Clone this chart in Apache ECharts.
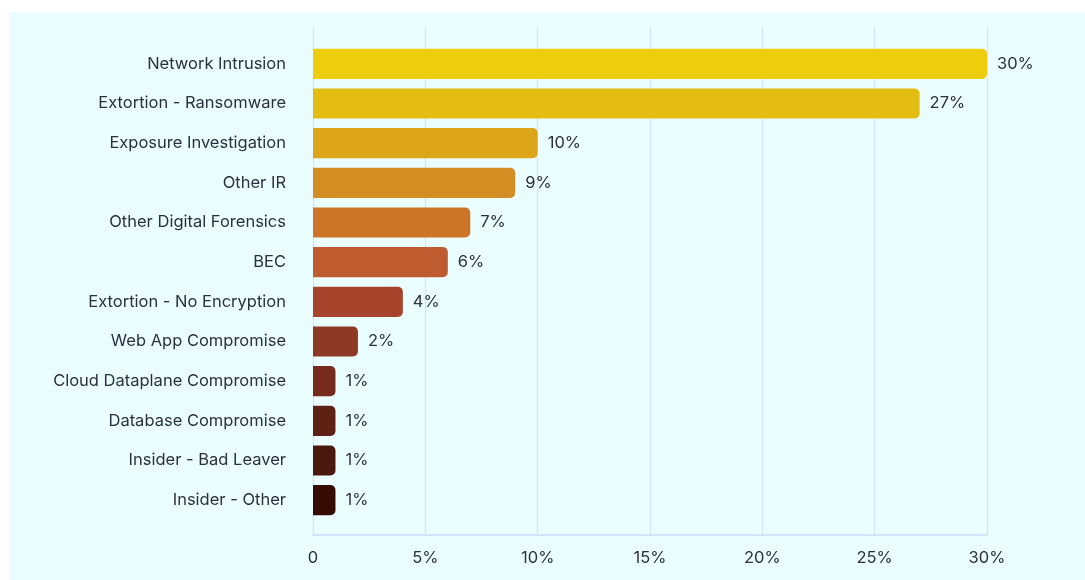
<!DOCTYPE html>
<html>
<head>
<meta charset="utf-8">
<script src="https://cdn.jsdelivr.net/npm/echarts@6/dist/echarts.min.js"></script>
<style>
html,body{margin:0;padding:0;background:#ffffff;}
#chart{width:1085px;height:580px;}
</style>
</head>
<body>
<div id="chart"></div>
<script>
const categories = [
  "Network Intrusion",
  "Extortion - Ransomware",
  "Exposure Investigation",
  "Other IR",
  "Other Digital Forensics",
  "BEC",
  "Extortion - No Encryption",
  "Web App Compromise",
  "Cloud Dataplane Compromise",
  "Database Compromise",
  "Insider - Bad Leaver",
  "Insider - Other"
];
const values = [30, 27, 10, 9, 7, 6, 4, 2, 1, 1, 1, 1];
const barColors = [
  "#EECE0C", "#E3BD12", "#DDA51A", "#D38D22", "#CC7529", "#BE5C30",
  "#A6442C", "#8E3826", "#772B1C", "#5E2215", "#4A180C", "#360B03"
];
const xTicks = [0, 5, 10, 15, 20, 25, 30];

const FONT = "Inter, 'Noto Sans', sans-serif";
const TXT = "#2b3040";
const GRIDC = "#d3e4f8";

const chart = echarts.init(document.getElementById('chart'), null, {renderer: 'canvas'});
chart.setOption({
  animation: false,
  backgroundColor: '#ffffff',
  graphic: [{
    type: 'rect', z: -10, silent: true,
    shape: {x: 9, y: 12, width: 1076, height: 568},
    style: {fill: '#ebfeff'}
  }],
  grid: [
    {left: 313, right: 98, top: 44, bottom: 60},
    {left: 313, right: 98, top: 27, bottom: 45}
  ],
  xAxis: [
    {
      gridIndex: 0, type: 'value', min: xTicks[0], max: xTicks[xTicks.length - 1], interval: 5,
      show: false
    },
    {
      gridIndex: 1, type: 'value', min: xTicks[0], max: xTicks[xTicks.length - 1], interval: 5,
      axisLine: {show: true, lineStyle: {color: GRIDC, width: 2}},
      axisTick: {show: false},
      splitLine: {show: true, lineStyle: {color: GRIDC, width: 1.3}},
      axisLabel: {
        margin: 15, color: TXT, fontFamily: FONT, fontSize: 16.5,
        formatter: v => v === 0 ? '0' : v + '%'
      }
    }
  ],
  yAxis: [
    {
      gridIndex: 0, type: 'category', data: categories, inverse: true,
      axisLine: {show: false}, axisTick: {show: false}, splitLine: {show: false},
      axisLabel: {margin: 27, color: TXT, fontFamily: FONT, fontSize: 16.5, padding: [3, 0, 0, 0]}
    },
    {
      gridIndex: 1, type: 'value', min: 0, max: 1, show: false
    }
  ],
  series: [{
    type: 'bar', xAxisIndex: 0, yAxisIndex: 0,
    data: values.map((v, i) => ({value: v, itemStyle: {color: barColors[i]}})),
    barCategoryGap: '24%',
    itemStyle: {borderRadius: [0, 5, 5, 0]},
    label: {
      show: true, position: 'right', distance: 10,
      color: TXT, fontFamily: FONT, fontSize: 16.5, padding: [3, 0, 0, 0],
      formatter: p => p.value + '%'
    }
  }]
});
</script>
</body>
</html>
